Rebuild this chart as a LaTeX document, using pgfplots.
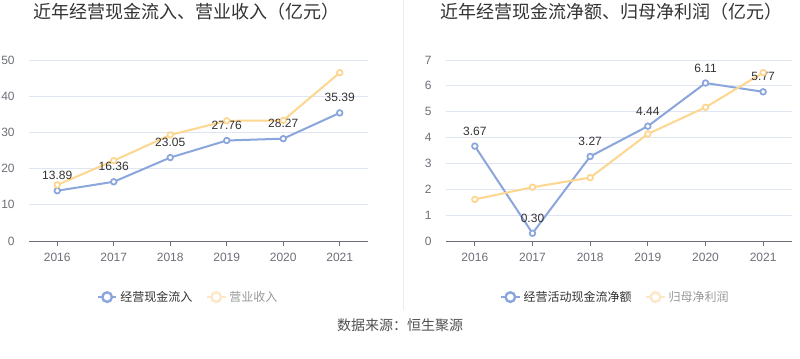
\documentclass[border=0pt]{standalone}
\usepackage{fontspec}
\setmainfont{Liberation Sans}
\newfontfamily\cjk{Noto Sans CJK SC}
\usepackage{pgfplots}
\pgfplotsset{compat=1.18}
\definecolor{cblue}{HTML}{8AA6DC}
\definecolor{corange}{HTML}{FDD68F}
\definecolor{cfade}{HTML}{FDE7C8}
\definecolor{gridc}{HTML}{E0E6F1}
\definecolor{axisc}{HTML}{6E7079}
\definecolor{txt}{HTML}{333333}
\pgfplotsset{
  base/.style={
    scale only axis,
    height=135.75pt,
    anchor=south west,
    xmin=-0.5, xmax=5.5,
    xtick={0,1,2,3,4,5},
    xticklabels={2016,2017,2018,2019,2020,2021},
    axis x line*=bottom,
    axis y line*=left,
    y axis line style={draw=none},
    x axis line style={draw=axisc, line width=0.75pt},
    ytick style={draw=none},
    xtick style={draw=axisc, line width=0.75pt},
    tick align=outside,
    major tick length=3.75pt,
    ymajorgrids,
    grid style={draw=gridc, line width=0.75pt},
    tick label style={font=\fontsize{9}{10}\selectfont, text=axisc},
    /pgf/number format/assume math mode=true,
    yticklabel style={xshift=-3.5pt},
    xticklabel style={yshift=-1.5pt},
    legend columns=2,
    legend style={draw=none, fill=none, anchor=center, font=\cjk\fontsize{9}{10}\selectfont,
      /tikz/every even column/.append style={column sep=8pt}},
    legend cell align=left,
  },
  mainline/.style={color=cblue, line width=1.5pt, mark=*,
    mark size=2.1pt,
    mark options={line width=1.3pt, draw=cblue, fill=white},
    nodes near coords={\pgfmathprintnumber[fixed,fixed zerofill,precision=2]{\pgfplotspointmeta}},
    every node near coord/.append style={font=\fontsize{9}{10}\selectfont, text=txt, anchor=south, yshift=6.5pt, inner sep=1pt},
    legend image code/.code={
      \draw[line width=1.8pt, color=cblue] (0pt,0pt) -- (14pt,0pt);
      \draw[line width=1.8pt, color=cblue, fill=white] (7pt,0pt) circle (3.6pt);}
  },
  secline/.style={color=corange, line width=1.5pt, mark=*,
    mark size=2.1pt,
    mark options={line width=1.3pt, draw=corange, fill=white},
    legend image code/.code={
      \draw[line width=1.8pt, color=cfade] (0pt,0pt) -- (14pt,0pt);
      \draw[line width=1.8pt, color=cfade, fill=white] (7pt,0pt) circle (3.6pt);}
  },
}
\begin{document}
\begin{tikzpicture}
\path[use as bounding box, fill=white] (0,0) rectangle (600pt,268.5pt);
\draw[color=black!7, line width=0.75pt] (302.25pt,268.5pt) -- (302.25pt,36pt);
\node[font=\cjk\fontsize{13.5}{15}\selectfont, text=txt] at (139.5pt,259.5pt) {近年经营现金流入、营业收入（亿元）};
\node[font=\cjk\fontsize{13.5}{15}\selectfont, text=txt] at (458.25pt,259.5pt) {近年经营现金流净额、归母净利润（亿元）};
\node[font=\cjk\fontsize{10.5}{12}\selectfont, text=txt!85] at (300pt,24.75pt) {数据来源：恒生聚源};

\begin{axis}[base, at={(21.75pt,87.75pt)}, width=254.25pt,
  ymin=0, ymax=50, ytick={0,10,20,30,40,50},
  legend style={at={(0.47,-0.31)}}]
\addplot[mainline] coordinates {(0,13.89) (1,16.36) (2,23.05) (3,27.76) (4,28.27) (5,35.39)};
\addlegendentry{\textcolor{txt}{经营现金流入}}
\addplot[secline] coordinates {(0,15.5) (1,22.2) (2,29.3) (3,33.2) (4,33.3) (5,46.5)};
\addlegendentry{\textcolor{black!40}{营业收入}}
\end{axis}

\begin{axis}[base, at={(334.5pt,87.75pt)}, width=259.5pt,
  ymin=0, ymax=7, ytick={0,1,2,3,4,5,6,7},
  legend style={at={(0.49,-0.31)}}]
\addplot[mainline] coordinates {(0,3.67) (1,0.30) (2,3.27) (3,4.44) (4,6.11) (5,5.77)};
\addlegendentry{\textcolor{txt}{经营活动现金流净额}}
\addplot[secline] coordinates {(0,1.61) (1,2.08) (2,2.45) (3,4.14) (4,5.17) (5,6.51)};
\addlegendentry{\textcolor{black!40}{归母净利润}}
\end{axis}
\end{tikzpicture}
\end{document}
